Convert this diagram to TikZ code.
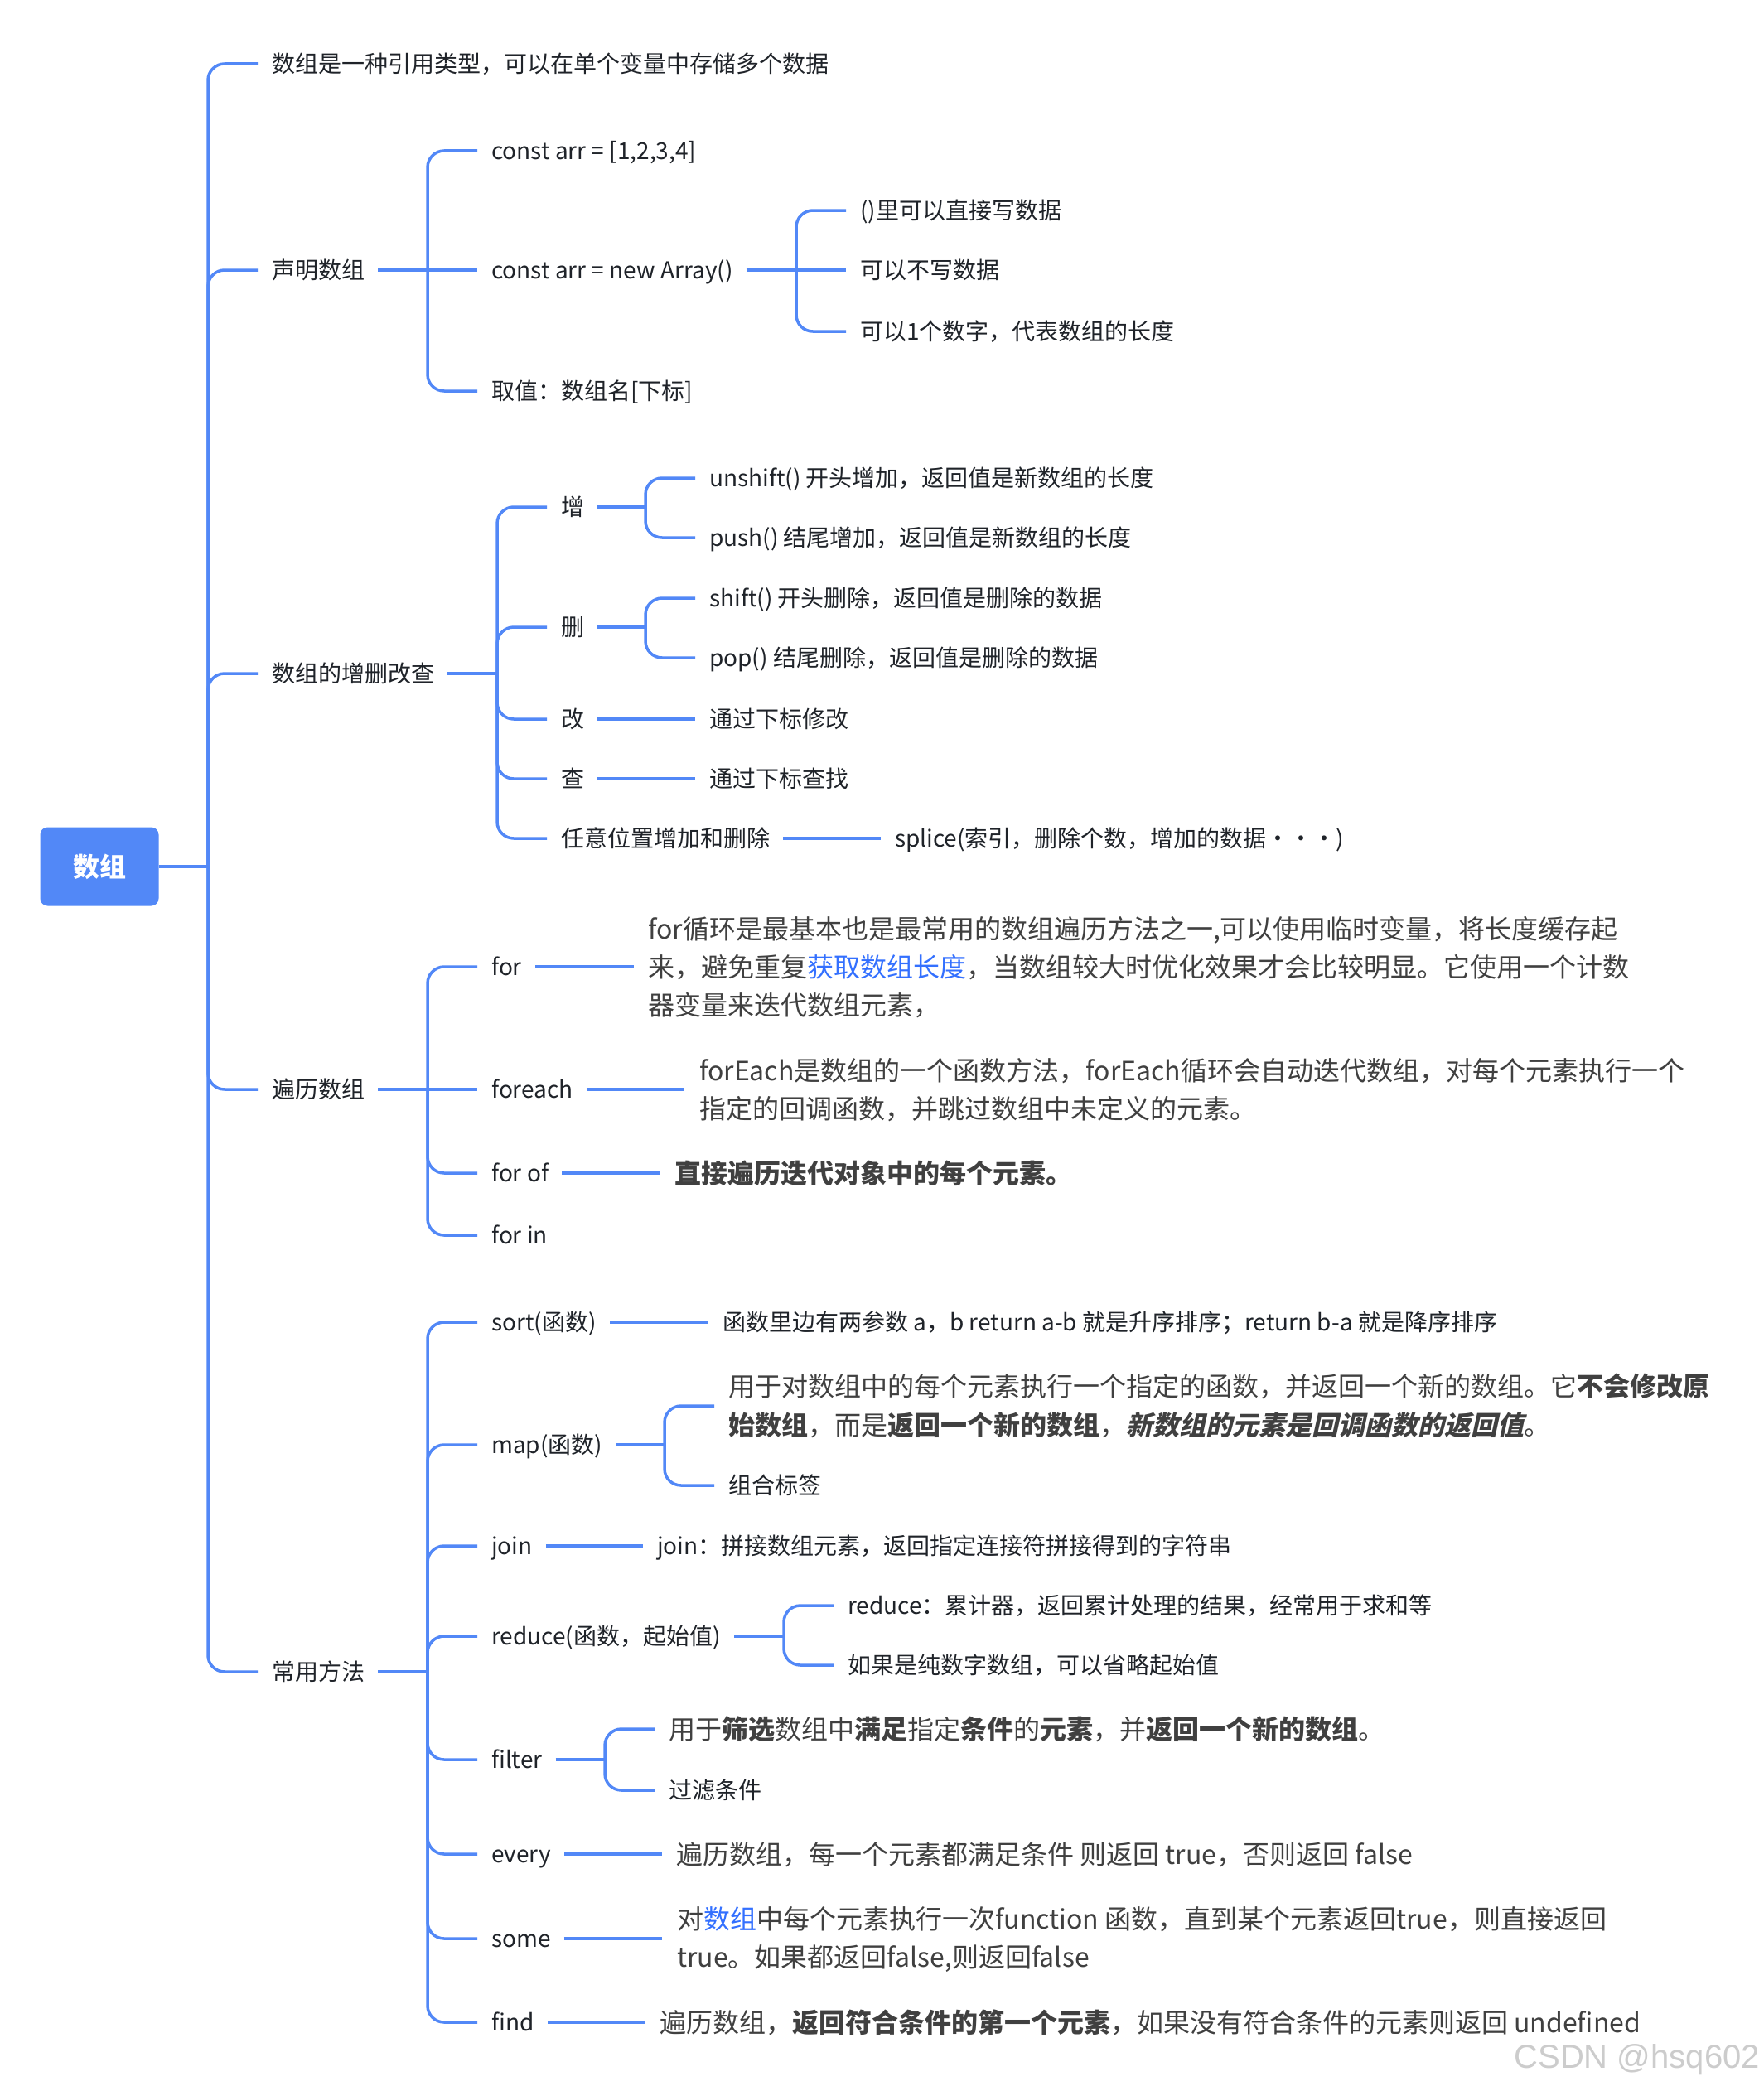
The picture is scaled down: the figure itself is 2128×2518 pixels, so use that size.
\documentclass[tikz,border=0pt]{standalone}
\usepackage{fontspec}
\setmainfont{Noto Sans CJK SC}
\newfontfamily\slcjk{Noto Sans CJK SC}[FakeSlant=0.22]
\newfontfamily\wmfont{Liberation Sans}
\definecolor{lineblue}{HTML}{5288F7}
\definecolor{linkc}{HTML}{3370FF}
\definecolor{lblc}{HTML}{1F2329}
\definecolor{dscc}{HTML}{404040}
\newcommand\mmbr[2]{\draw[ln] (#1) |- ([xshift=-17pt]#2.west);}
\newcommand\mmcon[2]{\draw[lnp] ([xshift=16pt]#1.east) -- (#2);}
\begin{document}
\begin{tikzpicture}[x=1pt,y=-1pt,
  ln/.style={draw=lineblue,line width=3.5pt,rounded corners=20pt},
  lnp/.style={draw=lineblue,line width=4pt},
  lbl/.style={anchor=west,inner sep=0pt,text=lblc,font=\fontsize{28pt}{34pt}\selectfont,text height=24.6pt,text depth=3.4pt},
  dsc/.style={anchor=west,inner sep=0pt,text=dscc,font=\fontsize{32pt}{40pt}\selectfont,text height=28.2pt,text depth=3.8pt},
  rootbox/.style={fill=lineblue,rounded corners=9pt,minimum width=143pt,minimum height=95pt,inner sep=0pt,text=white,font=\fontsize{32pt}{38pt}\selectfont\bfseries},
  wm/.style={anchor=east,inner sep=0pt,text=gray!40,font=\wmfont\fontsize{40pt}{46pt}\selectfont}
]
\fill[white] (0,0) rectangle (2128,2518);
\useasboundingbox (0,0) rectangle (2128,2518);

% root
\node[rootbox] (root) at (120,1046) {数组};
\coordinate (t0) at (251,1046);
\draw[ln] (root.east) -- (t0);

% level 1
\node[lbl] (a1) at (328,77) {数组是一种引用类型，可以在单个变量中存储多个数据};
\node[lbl] (a2) at (328,326) {声明数组};
\node[lbl] (a3) at (328,813) {数组的增删改查};
\node[lbl] (a4) at (328,1315) {遍历数组};
\node[lbl] (a5) at (328,2018) {常用方法};
\mmbr{t0}{a1}\mmbr{t0}{a2}\mmbr{t0}{a3}\mmbr{t0}{a4}\mmbr{t0}{a5}

% 声明数组
\coordinate (s2) at (516,326);
\node[lbl] (b1) at (593,182) {const arr = [1,2,3,4]};
\node[lbl] (b2) at (593,326) {const arr = new Array()};
\node[lbl] (b3) at (593,472) {取值：数组名[下标]};
\mmcon{a2}{s2}
\mmbr{s2}{b1}\draw[ln] (s2) -- ([xshift=-17pt]b2.west);\mmbr{s2}{b3}

\coordinate (s3) at (961,326);
\node[lbl] (c1) at (1038,254) {()里可以直接写数据};
\node[lbl] (c2) at (1038,326) {可以不写数据};
\node[lbl] (c3) at (1038,400) {可以1个数字，代表数组的长度};
\mmcon{b2}{s3}
\mmbr{s3}{c1}\draw[ln] (s3) -- ([xshift=-17pt]c2.west);\mmbr{s3}{c3}

% 增删改查
\coordinate (s4) at (600,813);
\node[lbl] (d1) at (677,612) {增};
\node[lbl] (d2) at (677,757) {删};
\node[lbl] (d3) at (677,868) {改};
\node[lbl] (d4) at (677,940) {查};
\node[lbl] (d5) at (677,1012) {任意位置增加和删除};
\mmcon{a3}{s4}
\mmbr{s4}{d1}\mmbr{s4}{d2}\mmbr{s4}{d3}\mmbr{s4}{d4}\mmbr{s4}{d5}

\coordinate (s5) at (779,612);
\node[lbl] (e1) at (856,577) {unshift() 开头增加，返回值是新数组的长度};
\node[lbl] (e2) at (856,649) {push() 结尾增加，返回值是新数组的长度};
\mmcon{d1}{s5}\mmbr{s5}{e1}\mmbr{s5}{e2}

\coordinate (s6) at (779,757);
\node[lbl] (e3) at (856,722) {shift() 开头删除，返回值是删除的数据};
\node[lbl] (e4) at (856,794) {pop() 结尾删除，返回值是删除的数据};
\mmcon{d2}{s6}\mmbr{s6}{e3}\mmbr{s6}{e4}

\node[lbl] (e5) at (856,868) {通过下标修改};
\node[lbl] (e6) at (856,940) {通过下标查找};
\node[lbl] (e7) at (1080,1012) {splice(索引，删除个数，增加的数据・・・)};
\draw[lnp] ([xshift=16pt]d3.east) -- ([xshift=-17pt]e5.west);
\draw[lnp] ([xshift=16pt]d4.east) -- ([xshift=-17pt]e6.west);
\draw[lnp] ([xshift=16pt]d5.east) -- ([xshift=-17pt]e7.west);

% 遍历数组
\coordinate (s7) at (516,1315);
\node[lbl] (f1) at (593,1167) {for};
\node[lbl] (f2) at (593,1315) {foreach};
\node[lbl] (f3) at (593,1416) {for of};
\node[lbl] (f4) at (593,1491) {for in};
\mmcon{a4}{s7}
\mmbr{s7}{f1}\draw[ln] (s7) -- ([xshift=-17pt]f2.west);\mmbr{s7}{f3}\mmbr{s7}{f4}

\node[dsc] (g1a) at (782,1121) {for循环是最基本也是最常用的数组遍历方法之一,可以使用临时变量，将长度缓存起};
\node[dsc] (g1) at (782,1167) {来，避免重复{\color{linkc}获取数组长度}，当数组较大时优化效果才会比较明显。它使用一个计数};
\node[dsc] (g1c) at (782,1213) {器变量来迭代数组元素，};
\draw[lnp] ([xshift=16pt]f1.east) -- ([xshift=-17pt]g1.west);

\node[dsc] (g2a) at (844,1292) {forEach是数组的一个函数方法，forEach循环会自动迭代数组，对每个元素执行一个};
\node[dsc] (g2b) at (844,1338) {指定的回调函数，并跳过数组中未定义的元素。};
\coordinate (g2in) at (826,1315);
\draw[lnp] ([xshift=16pt]f2.east) -- (g2in);

\node[dsc,font=\fontsize{32pt}{40pt}\selectfont\bfseries] (g3) at (814,1416) {直接遍历迭代对象中的每个元素。};
\draw[lnp] ([xshift=16pt]f3.east) -- ([xshift=-17pt]g3.west);

% 常用方法
\coordinate (s8) at (516,2018);
\node[lbl] (h1) at (593,1596) {sort(函数)};
\node[lbl] (h2) at (593,1744) {map(函数)};
\node[lbl] (h3) at (593,1866) {join};
\node[lbl] (h4) at (593,1975) {reduce(函数，起始值)};
\node[lbl] (h5) at (593,2124) {filter};
\node[lbl] (h6) at (593,2238) {every};
\node[lbl] (h7) at (593,2340) {some};
\node[lbl] (h8) at (593,2441) {find};
\mmcon{a5}{s8}
\mmbr{s8}{h1}\mmbr{s8}{h2}\mmbr{s8}{h3}\mmbr{s8}{h4}\mmbr{s8}{h5}\mmbr{s8}{h6}\mmbr{s8}{h7}\mmbr{s8}{h8}

\node[lbl] (i1) at (872,1596) {函数里边有两参数 a，b return a-b 就是升序排序；return b-a 就是降序排序};
\draw[lnp] ([xshift=16pt]h1.east) -- ([xshift=-17pt]i1.west);

\coordinate (s9) at (802,1744);
\node[dsc] (i2a) at (879,1673) {用于对数组中的每个元素执行一个指定的函数，并返回一个新的数组。它\textbf{不会修改原}};
\node[dsc] (i2b) at (879,1720) {\textbf{始数组}，而是\textbf{返回一个新的数组}，{\slcjk\bfseries 新数组的元素是回调函数的返回值}。};
\node[lbl] (i3) at (879,1793) {组合标签};
\coordinate (m1in) at (862,1697);
\mmcon{h2}{s9}
\draw[ln] (s9) |- (m1in);\mmbr{s9}{i3}

\node[lbl] (i4) at (793,1866) {join：拼接数组元素，返回指定连接符拼接得到的字符串};
\draw[lnp] ([xshift=16pt]h3.east) -- ([xshift=-17pt]i4.west);

\coordinate (s10) at (946,1975);
\node[lbl] (i5) at (1023,1938) {reduce：累计器，返回累计处理的结果，经常用于求和等};
\node[lbl] (i6) at (1023,2010) {如果是纯数字数组，可以省略起始值};
\mmcon{h4}{s10}\mmbr{s10}{i5}\mmbr{s10}{i6}

\coordinate (s11) at (730,2124);
\node[dsc] (i7) at (807,2087) {用于\textbf{筛选}数组中\textbf{满足}指定\textbf{条件}的\textbf{元素}，并\textbf{返回一个新的数组}。};
\node[lbl] (i8) at (807,2161) {过滤条件};
\mmcon{h5}{s11}\mmbr{s11}{i7}\mmbr{s11}{i8}

\node[dsc] (i9) at (816,2238) {遍历数组，每一个元素都满足条件 则返回 true，否则返回 false};
\draw[lnp] ([xshift=16pt]h6.east) -- ([xshift=-17pt]i9.west);

\node[dsc] (i10a) at (817,2316) {对{\color{linkc}数组}中每个元素执行一次function 函数，直到某个元素返回true，则直接返回};
\node[dsc] (i10b) at (817,2362) {true。如果都返回false,则返回false};
\coordinate (k1in) at (799,2340);
\draw[lnp] ([xshift=16pt]h7.east) -- (k1in);

\node[dsc] (i11) at (796,2441) {遍历数组，\textbf{返回符合条件的第一个元素}，如果没有符合条件的元素则返回 undefined};
\draw[lnp] ([xshift=16pt]h8.east) -- ([xshift=-17pt]i11.west);

\node[wm] (wm) at (2124,2486) {CSDN @hsq602};
\end{tikzpicture}
\end{document}
